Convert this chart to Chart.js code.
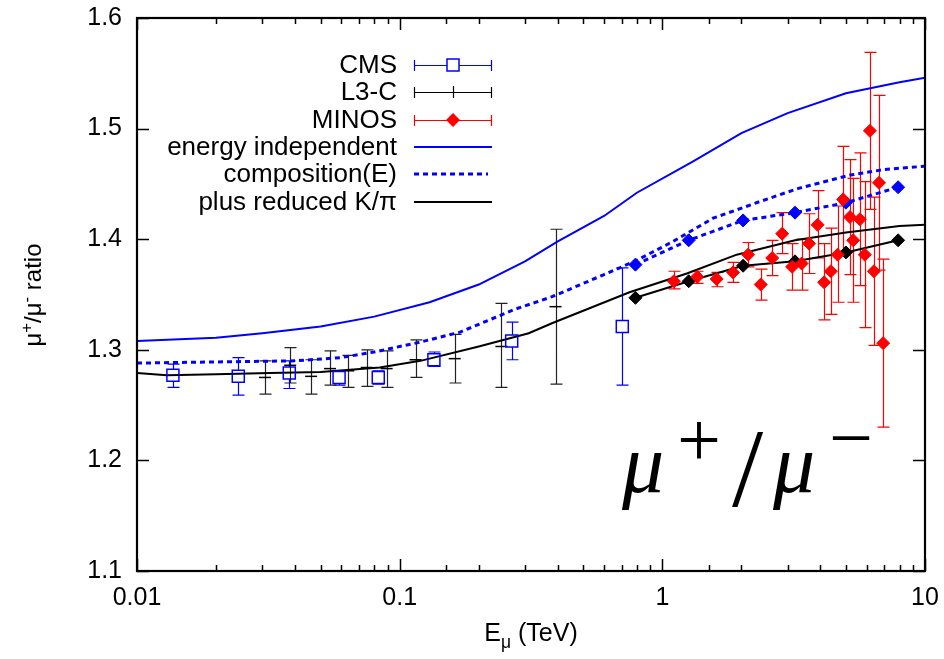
<!DOCTYPE html>
<html>
<head>
<meta charset="utf-8">
<script src="https://cdn.jsdelivr.net/npm/chart.js@4"></script>
<style>
  body { margin: 0; background: #fff; }
  canvas { display: block; }
</style>
</head>
<body>
<canvas id="ratioChart" width="944" height="659"></canvas>
<script>
// CMS muon charge ratio
const cmsE = [0.0137, 0.0243, 0.038, 0.0588, 0.0829, 0.135, 0.267, 0.704];
const cmsRatio = [1.277, 1.276, 1.279, 1.275, 1.275, 1.291, 1.308, 1.321];
const cmsLo = [1.266, 1.259, 1.265, 1.268, 1.269, 1.285, 1.291, 1.268];
const cmsHi = [1.287, 1.293, 1.290, 1.281, 1.281, 1.298, 1.325, 1.374];

// L3-C
const l3cE = [0.0307, 0.0383, 0.046, 0.0543, 0.0637, 0.0749, 0.0892, 0.115, 0.162, 0.244, 0.392];
const l3cRatio = [1.275, 1.286, 1.276, 1.283, 1.281, 1.284, 1.283, 1.291, 1.292, 1.303, 1.339];
const l3cLo = [1.260, 1.270, 1.260, 1.268, 1.266, 1.267, 1.266, 1.275, 1.270, 1.266, 1.269];
const l3cHi = [1.290, 1.302, 1.291, 1.299, 1.295, 1.300, 1.299, 1.309, 1.314, 1.342, 1.409];

// MINOS
const minosE = [1.107, 1.358, 1.61, 1.86, 2.12, 2.37, 2.62, 2.86, 3.12, 3.39, 3.62, 3.90,
  4.13, 4.38, 4.65, 4.88, 5.18, 5.33, 5.65, 5.9, 6.17, 6.39, 6.68, 6.93];
const minosRatio = [1.362, 1.366, 1.364, 1.370, 1.386, 1.359, 1.383, 1.405, 1.375, 1.378, 1.396, 1.413,
  1.361, 1.371, 1.386, 1.436, 1.420, 1.399, 1.418, 1.386, 1.498, 1.371, 1.451, 1.306];
const minosLo = [1.355, 1.360, 1.357, 1.361, 1.375, 1.345, 1.367, 1.387, 1.354, 1.354, 1.369, 1.383,
  1.327, 1.332, 1.343, 1.388, 1.368, 1.343, 1.358, 1.320, 1.427, 1.304, 1.372, 1.230];
const minosHi = [1.371, 1.371, 1.370, 1.379, 1.397, 1.373, 1.399, 1.424, 1.396, 1.400, 1.423, 1.444,
  1.396, 1.410, 1.430, 1.484, 1.472, 1.455, 1.478, 1.452, 1.569, 1.438, 1.530, 1.382];

// model values at MINOS energies
const modelE = [0.79, 1.26, 2.03, 3.2, 5.0, 7.9];
const compAtMinos = [1.377, 1.399, 1.417, 1.424, 1.433, 1.447];
const kpiAtMinos = [1.347, 1.362, 1.376, 1.380, 1.388, 1.399];

// model curves
const indepE = [0.01, 0.02, 0.03, 0.05, 0.08, 0.13, 0.2, 0.3, 0.4, 0.6, 0.8, 1.3, 2, 3, 5, 8, 10];
const indepRatio = [1.308, 1.311, 1.315, 1.321, 1.330, 1.343, 1.359, 1.380, 1.398, 1.421, 1.442,
  1.470, 1.496, 1.514, 1.532, 1.542, 1.546];
const compE = [0.01, 0.02, 0.04, 0.06, 0.08, 0.12, 0.17, 0.27, 0.38, 0.6, 0.8, 1.1, 1.56, 2.35, 3.3, 5.2, 7, 10];
const compRatio = [1.288, 1.289, 1.290, 1.293, 1.298, 1.307, 1.316, 1.336, 1.348, 1.368, 1.381,
  1.398, 1.419, 1.434, 1.446, 1.458, 1.463, 1.466];
const kpiE = [0.01, 0.013, 0.02, 0.032, 0.05, 0.084, 0.12, 0.2, 0.31, 0.38, 0.75, 1.24, 1.92, 3.2, 5, 8, 10];
const kpiRatio = [1.279, 1.277, 1.278, 1.279, 1.280, 1.284, 1.290, 1.303, 1.315, 1.324, 1.352,
  1.369, 1.386, 1.399, 1.406, 1.412, 1.413];

const legendLabels = ["CMS", "L3-C", "MINOS", "energy independent", "composition(E)", "plus reduced K/\u03c0"];

const BLUE = "#0000ff";
const RED = "#ff0000";
const SANS = "'Liberation Sans', Arial, Helvetica, sans-serif";
const SERIF = "'Liberation Serif', 'DejaVu Serif', serif";

function pts(xs, ys) {
  return xs.map((x, i) => ({ x: x, y: ys[i] }));
}

function isDecade(v) {
  const l = Math.log10(v);
  return Math.abs(l - Math.round(l)) < 1e-6;
}

// keep the plot box fixed: no extra room for overhanging tick labels
function fixBox(s, key, size) {
  s[key] = size;
  s.paddingTop = s.paddingBottom = s.paddingLeft = s.paddingRight = 0;
}

// vertical error bars with caps, drawn under the markers
const errorBars = {
  id: "errorBars",
  beforeDatasetsDraw(chart) {
    const { ctx, scales: { x, y } } = chart;
    chart.data.datasets.forEach(ds => {
      if (!ds.errLo) return;
      ctx.save();
      ctx.strokeStyle = ds.errColor;
      ctx.lineWidth = 1.2;
      ctx.beginPath();
      ds.data.forEach((p, i) => {
        const px = Math.round(x.getPixelForValue(p.x)) + 0.5;
        const top = y.getPixelForValue(ds.errHi[i]);
        const bot = y.getPixelForValue(ds.errLo[i]);
        const cy = y.getPixelForValue(p.y);
        const gap = ds.errGap || 0;
        ctx.moveTo(px, top);
        ctx.lineTo(px, Math.max(top, cy - gap));
        ctx.moveTo(px, Math.min(bot, cy + gap));
        ctx.lineTo(px, bot);
        ctx.moveTo(px - 6, top); ctx.lineTo(px + 6, top);
        ctx.moveTo(px - 6, bot); ctx.lineTo(px + 6, bot);
      });
      ctx.stroke();
      ctx.restore();
    });
  }
};

// frame and inward tick marks on all four sides
const frame = {
  id: "frame",
  afterDatasetsDraw(chart) {
    const { ctx, chartArea: a, scales: { x, y } } = chart;
    ctx.save();
    ctx.strokeStyle = "#000";
    ctx.lineWidth = 1.5;
    ctx.beginPath();
    x.ticks.forEach(t => {
      const px = Math.round(x.getPixelForValue(t.value)) + 0.5;
      const len = isDecade(t.value) ? 12 : 6;
      ctx.moveTo(px, a.bottom); ctx.lineTo(px, a.bottom - len);
      ctx.moveTo(px, a.top); ctx.lineTo(px, a.top + len);
    });
    y.ticks.forEach(t => {
      const py = Math.round(y.getPixelForValue(t.value)) + 0.5;
      ctx.moveTo(a.left, py); ctx.lineTo(a.left + 12, py);
      ctx.moveTo(a.right, py); ctx.lineTo(a.right - 12, py);
    });
    ctx.stroke();
    ctx.lineWidth = 2.2;
    ctx.strokeRect(a.left, a.top, a.width, a.height);
    ctx.restore();
  }
};

// text run with sub/superscripts, returns width
function drawRuns(ctx, runs, x, y, size, measureOnly) {
  let cx = x;
  runs.forEach(r => {
    const s = r.sub || r.sup ? size * 0.7 : size;
    ctx.font = s + "px " + SANS;
    const dy = r.sup ? -size * 0.38 : (r.sub ? size * 0.28 : 0);
    if (!measureOnly) ctx.fillText(r.t, cx, y + dy);
    cx += ctx.measureText(r.t).width;
  });
  return cx - x;
}

const labels = {
  id: "labels",
  afterDraw(chart) {
    const { ctx, chartArea: a } = chart;
    ctx.save();
    ctx.fillStyle = "#000";
    ctx.textBaseline = "alphabetic";
    ctx.textAlign = "left";

    // y axis title
    const yRuns = [{ t: "\u03bc" }, { t: "+", sup: true }, { t: "/\u03bc" }, { t: "-", sup: true }, { t: " ratio" }];
    ctx.save();
    ctx.translate(41, 295);
    ctx.rotate(-Math.PI / 2);
    const yw = drawRuns(ctx, yRuns, 0, 0, 24, true);
    drawRuns(ctx, yRuns, -yw / 2, 0, 24, false);
    ctx.restore();

    // x axis title
    const xRuns = [{ t: "E" }, { t: "\u03bc", sub: true }, { t: " (TeV)" }];
    const xw = drawRuns(ctx, xRuns, 0, 0, 25, true);
    drawRuns(ctx, xRuns, (a.left + a.right) / 2 - xw / 2, 641, 25, false);

    // legend
    const rowY = [65, 92, 120, 147, 174, 202];
    const textRight = 397, x0 = 414, x1 = 492, xc = 453;
    ctx.font = "26px " + SANS;
    ctx.textAlign = "right";
    ctx.textBaseline = "middle";
    legendLabels.forEach((lab, i) => ctx.fillText(lab, textRight, rowY[i] + 1));

    function barSample(yy, color) {
      ctx.strokeStyle = color;
      ctx.lineWidth = 1.2;
      ctx.beginPath();
      ctx.moveTo(x0, yy + 0.5); ctx.lineTo(x1, yy + 0.5);
      ctx.moveTo(x0 + 0.5, yy - 5); ctx.lineTo(x0 + 0.5, yy + 6);
      ctx.moveTo(x1 - 0.5, yy - 5); ctx.lineTo(x1 - 0.5, yy + 6);
      ctx.stroke();
    }
    barSample(rowY[0], BLUE);
    ctx.fillStyle = "#fff";
    ctx.fillRect(xc - 6, rowY[0] - 6, 12, 12);
    ctx.strokeStyle = BLUE;
    ctx.lineWidth = 1.5;
    ctx.strokeRect(xc - 6, rowY[0] - 6, 12, 12);

    barSample(rowY[1], "#000");
    ctx.beginPath();
    ctx.moveTo(xc + 0.5, rowY[1] - 6); ctx.lineTo(xc + 0.5, rowY[1] + 6);
    ctx.stroke();

    barSample(rowY[2], RED);
    ctx.fillStyle = RED;
    ctx.beginPath();
    ctx.moveTo(xc, rowY[2] - 7); ctx.lineTo(xc + 7, rowY[2]);
    ctx.lineTo(xc, rowY[2] + 7); ctx.lineTo(xc - 7, rowY[2]);
    ctx.closePath();
    ctx.fill();

    ctx.lineWidth = 2;
    ctx.strokeStyle = BLUE;
    ctx.beginPath(); ctx.moveTo(x0, rowY[3]); ctx.lineTo(x1, rowY[3]); ctx.stroke();
    ctx.lineWidth = 3;
    ctx.setLineDash([5, 4]);
    ctx.beginPath(); ctx.moveTo(x0, rowY[4]); ctx.lineTo(x1 - 4, rowY[4]); ctx.stroke();
    ctx.setLineDash([]);
    ctx.lineWidth = 2;
    ctx.strokeStyle = "#000";
    ctx.beginPath(); ctx.moveTo(x0, rowY[5]); ctx.lineTo(x1, rowY[5]); ctx.stroke();

    // large mu+/mu- label
    ctx.fillStyle = "#000";
    ctx.textAlign = "left";
    ctx.textBaseline = "alphabetic";
    ctx.font = "italic 84px " + SERIF;
    ctx.fillText("\u03bc", 622, 492);
    ctx.fillText("\u03bc", 773, 492);
    ctx.font = "78px " + SERIF;
    ctx.fillText("+", 677, 466);
    ctx.fillText("\u2212", 829, 464);
    ctx.font = "112px " + SERIF;
    ctx.fillText("/", 732, 506);
    ctx.restore();
  }
};

const chart = new Chart(document.getElementById("ratioChart"), {
  type: "scatter",
  data: {
    datasets: [
      {
        label: "MINOS", data: pts(minosE, minosRatio),
        errLo: minosLo, errHi: minosHi, errColor: RED,
        pointStyle: "rectRot", pointRadius: 6.5, backgroundColor: RED, borderColor: RED, borderWidth: 1
      },
      {
        label: "CMS", data: pts(cmsE, cmsRatio),
        errLo: cmsLo, errHi: cmsHi, errColor: BLUE, errGap: 6,
        pointStyle: "rect", pointRadius: 8.5, backgroundColor: "rgba(0,0,0,0)", borderColor: BLUE, borderWidth: 1.5
      },
      {
        label: "L3-C", data: pts(l3cE, l3cRatio),
        errLo: l3cLo, errHi: l3cHi, errColor: "#222",
        pointStyle: "line", pointRadius: 6, borderColor: "#000", borderWidth: 1.5
      },
      {
        label: "composition at MINOS", data: pts(modelE, compAtMinos), showLine: true,
        pointStyle: "rectRot", pointRadius: 6.5, backgroundColor: BLUE, borderColor: BLUE,
        borderWidth: 3, borderDash: [5, 4], pointBorderWidth: 1
      },
      {
        label: "K/pi at MINOS", data: pts(modelE, kpiAtMinos), showLine: true,
        pointStyle: "rectRot", pointRadius: 6.5, backgroundColor: "#000", borderColor: "#000",
        borderWidth: 2, pointBorderWidth: 1
      },
      {
        label: "energy independent", data: pts(indepE, indepRatio), showLine: true,
        pointRadius: 0, borderColor: BLUE, borderWidth: 2
      },
      {
        label: "composition(E)", data: pts(compE, compRatio), showLine: true,
        pointRadius: 0, borderColor: BLUE, borderWidth: 3, borderDash: [5, 4]
      },
      {
        label: "plus reduced K/pi", data: pts(kpiE, kpiRatio), showLine: true,
        pointRadius: 0, borderColor: "#000", borderWidth: 2
      }
    ]
  },
  options: {
    responsive: false,
    animation: false,
    layout: { padding: { left: 0, right: 19, top: 18, bottom: 0 } },
    plugins: { legend: { display: false }, tooltip: { enabled: false } },
    scales: {
      x: {
        type: "logarithmic", min: 0.01, max: 10,
        grid: { display: false, drawTicks: false },
        border: { display: false },
        ticks: {
          autoSkip: false, maxRotation: 0, minRotation: 0, padding: 12,
          color: "#000", font: { family: SANS, size: 25 },
          callback: v => isDecade(v) ? String(Number(v.toPrecision(1))) : ""
        },
        afterFit: s => fixBox(s, "height", 88)
      },
      y: {
        min: 1.1, max: 1.6,
        grid: { display: false, drawTicks: false },
        border: { display: false },
        ticks: {
          stepSize: 0.1, padding: 15,
          color: "#000", font: { family: SANS, size: 25 },
          callback: v => v.toFixed(1)
        },
        afterFit: s => fixBox(s, "width", 137)
      }
    }
  },
  plugins: [errorBars, frame, labels]
});
</script>
</body>
</html>
